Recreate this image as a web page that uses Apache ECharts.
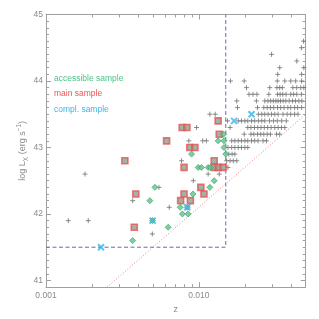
<!DOCTYPE html>
<html><head><meta charset="utf-8">
<script src="https://cdn.jsdelivr.net/npm/echarts@6/dist/echarts.min.js"></script>
<style>html,body{margin:0;padding:0;background:#fff}#c{width:319px;height:319px}</style>
</head><body><div id="c"></div>
<script>
// ---- data ----
const xTickValues = [0.001, 0.01];
const xTickLabels = ['0.001', '0.010'];
const xMinorTicks = [0.002, 0.003, 0.004, 0.005, 0.006, 0.007, 0.008, 0.009, 0.02, 0.03, 0.04];
const yTickLabels = ['41', '42', '43', '44', '45'];

// whole sample (grey crosses), grouped by log Lx row
const allSampleRows = [
  [44.6, [0.0484]],
  [44.5, [0.0469]],
  [44.4, [0.0299]],
  [44.3, [0.0437]],
  [44.2, [0.0338, 0.0486]],
  [44.1, [0.0328, 0.0470]],
  [44.0, [0.0161, 0.0198, 0.0326, 0.0365, 0.0399, 0.0430, 0.0470]],
  [43.9, [0.0205, 0.0291, 0.0324, 0.0338, 0.0352, 0.0412, 0.0437, 0.0464, 0.0486]],
  [43.8, [0.0213, 0.0226, 0.0240, 0.0287, 0.0327, 0.0340, 0.0354, 0.0372, 0.0399, 0.0417, 0.0437, 0.0469]],
  [43.7, [0.0177, 0.0238, 0.0270, 0.0283, 0.0295, 0.0307, 0.0319, 0.0330, 0.0342, 0.0356, 0.0371, 0.0390, 0.0410, 0.0429, 0.0451, 0.0472]],
  [43.6, [0.0179, 0.0242, 0.0266, 0.0280, 0.0294, 0.0309, 0.0327, 0.0343, 0.0361, 0.0382, 0.0399, 0.0423, 0.0443, 0.0470]],
  [43.5, [0.0118, 0.0128, 0.0245, 0.0258, 0.0270, 0.0284, 0.0299, 0.0314, 0.0330, 0.0355, 0.0378, 0.0399, 0.0423, 0.0445]],
  [43.4, [0.0154, 0.0181, 0.0190, 0.0200, 0.0209, 0.0221, 0.0232, 0.0245, 0.0258, 0.0270, 0.0290, 0.0308, 0.0326, 0.0348, 0.0373]],
  [43.3, [0.00966, 0.0160, 0.0209, 0.0219, 0.0231, 0.0243, 0.0255, 0.0268, 0.0282, 0.0297, 0.0314, 0.0330, 0.0347, 0.0365]],
  [43.2, [0.0198, 0.0219, 0.0229, 0.0242, 0.0254, 0.0266, 0.0280, 0.0294, 0.0322, 0.0338]],
  [43.1, [0.0086, 0.0106, 0.0112, 0.0164, 0.0172, 0.0181, 0.0190, 0.0200, 0.0209, 0.0221, 0.0232, 0.0244, 0.0263, 0.0277]],
  [43.0, [0.0155, 0.0164, 0.0172, 0.0181, 0.0190, 0.0200, 0.0209]],
  [42.9, [0.0157, 0.0165, 0.0172]],
  [42.8, [0.0077, 0.0152, 0.0160, 0.0168, 0.0177]],
  [42.7, [0.0155]],
  [42.6, [0.0018, 0.0115, 0.0136]],
  [42.5, [0.0092]],
  [42.4, [0.00548]],
  [42.2, [0.00369]],
  [42.1, [0.0064]],
  [41.9, [0.0014, 0.00189]],
  [41.7, [0.00496]]
];

// accessible sample (green diamonds) [z, log Lx]
const accessibleSample = [
  [0.0145, 43.2], [0.01337, 43.1], [0.0146, 43.1], [0.0146, 43.0],
  [0.00896, 42.9], [0.0150, 42.9],
  [0.0099, 42.7], [0.0104, 42.7], [0.0115, 42.7], [0.0119, 42.7],
  [0.0126, 42.5], [0.00516, 42.4], [0.0118, 42.4], [0.00915, 42.3],
  [0.00478, 42.2], [0.00755, 42.1], [0.0084, 42.1],
  [0.0078, 42.0], [0.0085, 42.0], [0.00498, 41.9],
  [0.0063, 41.8], [0.00369, 41.6]
];

// main sample (red squares)
const mainSample = [
  [0.01337, 43.4], [0.00778, 43.3], [0.00835, 43.3], [0.0136, 43.2],
  [0.00615, 43.1], [0.00873, 43.0], [0.00942, 43.0],
  [0.00328, 42.8], [0.0126, 42.8],
  [0.0080, 42.7], [0.0126, 42.7], [0.0134, 42.7], [0.0144, 42.7],
  [0.0103, 42.4], [0.00387, 42.3], [0.0080, 42.3], [0.0108, 42.3],
  [0.0076, 42.2], [0.0088, 42.2], [0.00378, 41.8]
];

// complementary sample (cyan crosses)
const complSample = [
  [0.0221, 43.5], [0.0170, 43.4], [0.0084, 42.1], [0.00498, 41.9], [0.00229, 41.5]
];

// limits
const boxLimit = [[0.001, 41.5], [0.015, 41.5], [0.015, 45]];
const fluxLimit = [[0.00251, 40.9], [0.05, 43.5]];

const Y_MIN = 40.9, Y_MAX = 45, X_MIN = 0.001, X_MAX = 0.05;

const allSample = [];
allSampleRows.forEach(([l, zs]) => zs.forEach(z => allSample.push([z, l])));

// ---- chart ----
const AX = '#a0a0a0';
const TXT = '#8a8a8a';
const FONT = 'Liberation Sans';
const chart = echarts.init(document.getElementById('c'), null, {renderer: 'canvas'});

function xLabel(v) {
  const i = xTickValues.findIndex(t => Math.abs(Math.log10(v) - Math.log10(t)) < 1e-6);
  return i >= 0 ? xTickLabels[i] : '';
}
function yLabel(v) {
  const r = Math.round(v);
  if (Math.abs(v - r) > 1e-6) return '';
  const i = yTickLabels.indexOf(String(r));
  return i >= 0 ? yTickLabels[i] : '';
}

const plus = 'path://M0,5L10,5M5,0L5,10';
const ex = 'path://M0,0L10,10M10,0L0,10';

const commonY = {type: 'value', min: Y_MIN, max: Y_MAX, scale: true, splitLine: {show: false}};

chart.setOption({
  animation: false,
  backgroundColor: '#fff',
  grid: {left: 46, right: 13.3, top: 14.5, bottom: 29.5, containLabel: false},
  legend: {
    orient: 'vertical', left: 44, top: 68, itemGap: 5.5, itemWidth: 0, itemHeight: 11,
    icon: 'none', selectedMode: false,
    textStyle: {fontSize: 8.5, fontFamily: FONT, padding: 0},
    data: [
      {name: 'accessible sample', textStyle: {color: '#4fc184'}},
      {name: 'main sample', textStyle: {color: '#ec5656'}},
      {name: 'compl. sample', textStyle: {color: '#38b8ea'}}
    ]
  },
  xAxis: [
    {
      type: 'log', logBase: 10, min: X_MIN, max: X_MAX, position: 'bottom',
      name: 'z', nameLocation: 'middle', nameGap: 13,
      nameTextStyle: {color: TXT, fontSize: 9, fontFamily: FONT},
      axisLine: {show: true, lineStyle: {color: AX, width: 1}},
      axisTick: {show: true, inside: true, length: 5, lineStyle: {color: AX}},
      axisLabel: {show: true, formatter: xLabel, color: TXT, fontSize: 8.5, fontFamily: FONT, margin: 4, showMinLabel: true, showMaxLabel: false},
      minorTick: {show: false}, splitLine: {show: false}
    },
    {
      type: 'log', logBase: 10, min: X_MIN, max: X_MAX, position: 'top',
      axisLine: {show: true, lineStyle: {color: AX, width: 1}},
      axisTick: {show: true, inside: true, length: 5, lineStyle: {color: AX}},
      axisLabel: {show: false}, splitLine: {show: false}
    }
  ],
  yAxis: [
    Object.assign({}, commonY, {
      position: 'left', splitNumber: 4,
      name: '{t|log L}{s|X}{t| (erg s}{p|−1}{t|)}', nameLocation: 'middle', nameGap: 16, nameRotate: 90,
      nameMoveOverlap: false,
      nameTextStyle: {rich: {
        t: {fontSize: 9, color: TXT, fontFamily: FONT, lineHeight: 14},
        s: {fontSize: 6.5, color: TXT, fontFamily: FONT, lineHeight: 6, verticalAlign: 'bottom'},
        p: {fontSize: 6.5, color: TXT, fontFamily: FONT, lineHeight: 6, verticalAlign: 'top'}
      }},
      axisLine: {show: true, lineStyle: {color: AX, width: 1}},
      axisTick: {show: true, inside: true, length: 5, lineStyle: {color: AX}},
      axisLabel: {show: true, formatter: yLabel, color: TXT, fontSize: 8.5, fontFamily: FONT, margin: 3, showMinLabel: false}
    }),
    Object.assign({}, commonY, {
      position: 'left', interval: 0.1,
      axisLine: {show: false},
      axisTick: {show: true, inside: true, length: 3, lineStyle: {color: AX}},
      axisLabel: {show: false}
    }),
    Object.assign({}, commonY, {
      position: 'right', splitNumber: 4,
      axisLine: {show: true, lineStyle: {color: AX, width: 1}},
      axisTick: {show: true, inside: true, length: 5, lineStyle: {color: AX}},
      axisLabel: {show: false}
    }),
    Object.assign({}, commonY, {
      position: 'right', interval: 0.1,
      axisLine: {show: false},
      axisTick: {show: true, inside: true, length: 3, lineStyle: {color: AX}},
      axisLabel: {show: false}
    })
  ],
  series: [
    {
      name: 'x minor ticks', type: 'custom', xAxisIndex: 0, yAxisIndex: 0, silent: true, clip: false,
      data: xMinorTicks.map(v => [v, Y_MIN]),
      renderItem: (params, api) => {
        const z = api.value(0);
        const b = api.coord([z, Y_MIN]);
        const t = api.coord([z, Y_MAX]);
        const x = Math.round(b[0]) + 0.5;
        return {type: 'group', children: [
          {type: 'line', shape: {x1: x, y1: b[1], x2: x, y2: b[1] - 3}, style: {stroke: AX, lineWidth: 1}},
          {type: 'line', shape: {x1: x, y1: t[1], x2: x, y2: t[1] + 3}, style: {stroke: AX, lineWidth: 1}}
        ]};
      }
    },
    {
      name: 'flux limit', type: 'line', data: fluxLimit, symbol: 'none', silent: true, z: 1,
      lineStyle: {color: '#f07c7c', width: 1, type: [1, 2]}
    },
    {
      name: 'box', type: 'line', data: boxLimit, symbol: 'none', silent: true, z: 1,
      lineStyle: {color: '#6a6aaa', width: 1, type: [4, 2.5]}
    },
    {
      name: 'all sample', type: 'scatter', data: allSample, symbol: plus, symbolSize: 5, z: 2,
      itemStyle: {color: 'rgba(0,0,0,0)', borderColor: '#707070', borderWidth: 1}
    },
    {
      name: 'main sample', type: 'scatter', data: mainSample, symbol: 'rect', symbolSize: 6, z: 3,
      itemStyle: {color: '#8a9f90', borderColor: '#ea5252', borderWidth: 1.6}
    },
    {
      name: 'accessible sample', type: 'scatter', data: accessibleSample, symbol: 'diamond', symbolSize: 6, z: 4,
      itemStyle: {color: '#5cc48a', borderColor: '#3a9a66', borderWidth: 0.8}
    },
    {
      name: 'compl. sample', type: 'scatter', data: complSample, symbol: ex, symbolSize: 6, z: 5,
      itemStyle: {color: 'rgba(0,0,0,0)', borderColor: '#2fb5ec', borderWidth: 2}
    }
  ]
});
</script>
</body></html>
